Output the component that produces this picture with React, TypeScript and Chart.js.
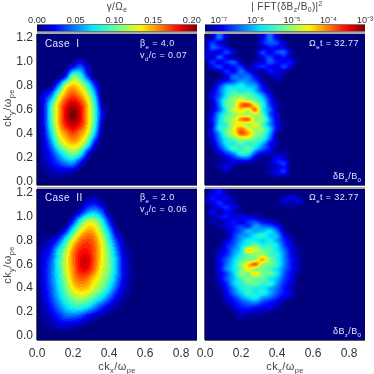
import React, { useEffect, useRef } from "react";
import { Chart, registerables } from "chart.js";

Chart.register(...registerables);

const FONT = '"Liberation Sans", Arial, sans-serif';

const kxTicks = [0, 0.2, 0.4, 0.6, 0.8];
const kyTicks = [0, 0.2, 0.4, 0.6, 0.8, 1.0, 1.2];
const gammaTicks = [0, 0.05, 0.1, 0.15, 0.2];
const fftTicks = [1e-7, 1e-6, 1e-5, 1e-4, 1e-3];

// growth rate grids: rows run from ky = 1.2 down to 0, columns from kx = 0 upward
const gammaKx = [0, 0.04, 0.08, 0.12, 0.16, 0.2, 0.24, 0.28, 0.32, 0.36, 0.4, 0.44, 0.48, 0.52, 0.56, 0.6];
const gammaKy = [1.2, 1.12, 1.04, 0.96, 0.88, 0.8, 0.72, 0.64, 0.56, 0.48, 0.4, 0.32, 0.24, 0.16, 0.08, 0];
const gammaCaseI = [
  [],
  [],
  [],
  [0, 0, 0, 0, 0.002, 0.02, 0.04, 0.012],
  [0, 0, 0, 0, 0.03, 0.1, 0.085, 0.035],
  [0, 0, 0.006, 0.05, 0.12, 0.14, 0.125, 0.09, 0.035],
  [0.001, 0.02, 0.045, 0.11, 0.15, 0.165, 0.15, 0.12, 0.065, 0.002],
  [0, 0.025, 0.085, 0.14, 0.175, 0.19, 0.175, 0.14, 0.085, 0.012],
  [0, 0.025, 0.09, 0.143, 0.183, 0.2, 0.183, 0.143, 0.09, 0.022],
  [0, 0.025, 0.085, 0.14, 0.175, 0.19, 0.175, 0.14, 0.085, 0.012],
  [0, 0.02, 0.07, 0.125, 0.15, 0.165, 0.15, 0.125, 0.065, 0.005],
  [0, 0.015, 0.05, 0.1, 0.13, 0.14, 0.13, 0.09, 0.025],
  [0, 0.012, 0.03, 0.06, 0.09, 0.105, 0.085, 0.03],
  [0, 0.008, 0.02, 0.035, 0.05, 0.055, 0.025, 0.002],
  [0, 0.003, 0.008, 0.012, 0.012, 0.008],
  [],
];
const gammaCaseII = [
  [],
  [0, 0, 0, 0, 0, 0, 0, 0.015, 0.02, 0.008],
  [0, 0, 0, 0, 0, 0, 0.02, 0.05, 0.06, 0.04, 0.005],
  [0, 0, 0, 0, 0, 0.03, 0.08, 0.115, 0.115, 0.08, 0.03, 0.002],
  [0, 0, 0, 0, 0.03, 0.08, 0.125, 0.145, 0.14, 0.105, 0.06, 0.012, 0.002],
  [0, 0.005, 0.012, 0.035, 0.08, 0.125, 0.155, 0.165, 0.155, 0.125, 0.08, 0.035, 0.008, 0.001],
  [0.003, 0.012, 0.03, 0.07, 0.11, 0.15, 0.172, 0.175, 0.16, 0.13, 0.095, 0.05, 0.014, 0.003],
  [0.004, 0.018, 0.04, 0.08, 0.12, 0.155, 0.18, 0.185, 0.16, 0.13, 0.1, 0.06, 0.02, 0.005, 0.001],
  [0.004, 0.02, 0.045, 0.08, 0.12, 0.15, 0.177, 0.178, 0.155, 0.125, 0.1, 0.06, 0.022, 0.006, 0.001],
  [0.003, 0.02, 0.045, 0.075, 0.11, 0.145, 0.16, 0.155, 0.135, 0.115, 0.09, 0.055, 0.02, 0.006, 0.001],
  [0.002, 0.018, 0.04, 0.07, 0.1, 0.13, 0.142, 0.138, 0.12, 0.1, 0.072, 0.04, 0.014, 0.004],
  [0.001, 0.014, 0.035, 0.06, 0.085, 0.105, 0.115, 0.108, 0.09, 0.07, 0.045, 0.02, 0.007, 0.002],
  [0, 0.01, 0.025, 0.045, 0.065, 0.08, 0.08, 0.07, 0.05, 0.03, 0.016, 0.006, 0.002],
  [0, 0.006, 0.015, 0.028, 0.04, 0.04, 0.035, 0.02, 0.012, 0.005, 0.001],
  [0, 0.002, 0.006, 0.012, 0.012, 0.01, 0.005, 0.002],
  [],
];

// spectrum grids: entries are tenths of a decade above 1e-7
const fftKx = [0, 0.04, 0.08, 0.12, 0.16, 0.2, 0.24, 0.28, 0.32, 0.36, 0.4, 0.44, 0.48, 0.52, 0.56];
const fftKy = [1.2, 1.16, 1.12, 1.08, 1.04, 1.0, 0.96, 0.92, 0.88, 0.84, 0.8, 0.76, 0.72, 0.68, 0.64, 0.6, 0.56, 0.52, 0.48, 0.44, 0.4, 0.36, 0.32, 0.28, 0.24, 0.2, 0.16, 0.12, 0.08, 0.04, 0];
const fftCaseI = [
  [0, 2, 9, 2, 0, 0, 0, 0, 3, 9, 3, 0],
  [2, 6, 3, 1, 0, 0, 0, 0, 5, 8, 7, 2],
  [1, 8, 6, 3, 0, 0, 0, 0, 2, 5, 4, 4],
  [3, 4, 3, 7, 3, 0, 0, 1, 7, 3, 7, 8, 2],
  [4, 2, 8, 3, 1, 0, 0, 0, 4, 7, 3, 5, 1],
  [0, 6, 3, 6, 8, 2, 0, 2, 3, 8, 5, 4, 5],
  [0, 4, 7, 3, 5, 6, 1, 4, 6, 4, 3, 7, 2],
  [0, 0, 2, 6, 4, 9, 5, 2, 1, 5, 3, 2, 0],
  [0, 0, 0, 3, 9, 8, 9, 4, 1, 1, 3, 1, 0],
  [0, 0, 3, 5, 8, 11, 10, 7, 2, 0, 1, 0],
  [0, 1, 6, 12, 13, 15, 12, 11, 4, 1],
  [0, 2, 8, 14, 17, 15, 16, 12, 6, 2],
  [0, 4, 8, 15, 19, 20, 19, 16, 11, 4],
  [0, 3, 10, 18, 22, 25, 22, 19, 14, 6, 1],
  [0, 2, 9, 19, 21, 31, 33, 25, 17, 7, 2],
  [0, 3, 8, 17, 24, 27, 24, 31, 16, 9, 2],
  [0, 4, 12, 18, 21, 24, 22, 23, 19, 8, 3],
  [0, 5, 13, 20, 23, 30, 32, 21, 21, 11, 3],
  [0, 4, 14, 17, 24, 25, 22, 25, 18, 10, 4, 1],
  [0, 5, 15, 19, 25, 31, 26, 22, 21, 13, 4],
  [0, 4, 11, 20, 24, 32, 29, 22, 19, 11, 2],
  [0, 3, 10, 16, 20, 23, 23, 19, 17, 9, 1],
  [0, 2, 8, 15, 15, 19, 16, 17, 12, 5, 2],
  [0, 1, 6, 12, 18, 16, 19, 14, 9, 5, 1],
  [0, 0, 3, 7, 11, 17, 16, 8, 4, 3, 1, 2],
  [0, 0, 1, 3, 6, 9, 9, 3, 1, 1, 4, 2],
  [0, 0, 1, 2, 3, 2, 2, 1, 0, 2, 5, 6],
  [0, 0, 2, 4, 1, 0, 0, 0, 0, 1, 2, 5],
  [0, 0, 0, 1, 0, 0, 0, 0, 0, 2, 4, 6],
  [0, 0, 0, 0, 0, 0, 0, 0, 0, 0, 1, 0],
  [],
];
const fftCaseII = [
  [0, 3, 5, 1, 0],
  [1, 5, 3, 4, 1, 0, 0, 0, 0, 0, 0, 2, 4, 2],
  [2, 3, 6, 3, 2, 0, 0, 0, 0, 0, 0, 3, 1, 3],
  [0, 2, 4, 6, 3, 1, 0, 0, 0, 0, 0, 0, 1],
  [0, 4, 1, 4, 2, 1, 0],
  [0, 1, 4, 5, 3, 4, 3, 2, 1],
  [0, 2, 1, 3, 5, 3, 6, 7, 4, 3, 1],
  [0, 0, 2, 3, 5, 7, 6, 11, 9, 8, 5, 1],
  [0, 0, 0, 2, 5, 8, 12, 11, 12, 14, 9, 2],
  [0, 0, 0, 1, 6, 10, 11, 15, 17, 13, 12, 4, 1],
  [0, 0, 0, 3, 7, 11, 15, 15, 13, 15, 11, 6, 2],
  [0, 0, 1, 5, 8, 13, 17, 20, 16, 17, 14, 7, 3],
  [0, 0, 2, 5, 10, 14, 27, 24, 20, 18, 14, 9, 4, 1],
  [0, 0, 3, 6, 11, 16, 20, 21, 22, 18, 16, 10, 4, 1],
  [0, 0, 4, 8, 13, 18, 20, 22, 29, 21, 16, 10, 5, 2],
  [0, 0, 3, 9, 14, 21, 27, 32, 22, 20, 17, 10, 5, 1],
  [0, 0, 4, 10, 14, 20, 26, 21, 20, 18, 14, 9, 5, 2],
  [0, 0, 3, 7, 13, 21, 20, 27, 20, 20, 15, 8, 4, 1],
  [0, 0, 3, 8, 12, 18, 21, 19, 19, 15, 12, 7, 4],
  [0, 0, 2, 6, 13, 16, 19, 20, 17, 17, 11, 6, 3],
  [0, 0, 1, 5, 10, 15, 17, 15, 15, 12, 9, 5, 2],
  [0, 0, 0, 4, 9, 13, 17, 15, 16, 12, 8, 5, 3],
  [0, 0, 0, 3, 6, 10, 13, 15, 11, 9, 6, 3, 1],
  [0, 0, 0, 2, 4, 7, 9, 10, 7, 5, 3, 1],
  [0, 0, 0, 0, 3, 5, 6, 5, 4, 4, 2],
  [0, 0, 0, 0, 1, 3, 3, 2, 2, 1],
  [0, 0, 0, 0, 0, 2, 1, 1],
  [],
  [],
  [],
  [],
];

const rampStops: [number, number, number, number][] = [
  [0, 0, 0, 125],
  [0.11, 0, 0, 255],
  [0.35, 0, 235, 255],
  [0.5, 110, 255, 140],
  [0.65, 255, 245, 0],
  [0.89, 255, 0, 0],
  [1, 125, 0, 0],
];

function ramp(f: number): [number, number, number] {
  const t = Math.max(0, Math.min(1, f));
  for (let i = 1; i < rampStops.length; i++) {
    if (t <= rampStops[i][0]) {
      const a = rampStops[i - 1];
      const b = rampStops[i];
      const u = (t - a[0]) / (b[0] - a[0]);
      return [a[1] + (b[1] - a[1]) * u, a[2] + (b[2] - a[2]) * u, a[3] + (b[3] - a[3]) * u];
    }
  }
  return [125, 0, 0];
}

function cr(a: number, b: number, c: number, d: number, t: number) {
  return 0.5 * (2 * b + (c - a) * t + (2 * a - 5 * b + 4 * c - d) * t * t + (3 * b - a - 3 * c + d) * t * t * t);
}

function locate(axis: number[], v: number): [number, number] {
  const asc = axis[1] > axis[0];
  const step = Math.abs(axis[1] - axis[0]);
  const p = asc ? (v - axis[0]) / step : (axis[0] - v) / step;
  const i = Math.floor(p);
  return [i, p - i];
}

function sample(rows: number[][], kx: number[], ky: number[], x: number, y: number) {
  const [ci, cu] = locate(kx, x);
  const [ri, ru] = locate(ky, y);
  const at = (r: number, c: number) => {
    const rr = Math.max(0, Math.min(ky.length - 1, r));
    return (rows[rr] && rows[rr][Math.max(0, c)]) || 0;
  };
  const line = (r: number) => cr(at(r, ci - 1), at(r, ci), at(r, ci + 1), at(r, ci + 2), cu);
  return Math.max(0, cr(line(ri - 1), line(ri), line(ri + 1), line(ri + 2), ru));
}

type Run = { t: string; sub?: boolean; sup?: boolean };

function richWidth(ctx: CanvasRenderingContext2D, runs: Run[], size: number) {
  let w = 0;
  for (const r of runs) {
    ctx.font = `${r.sub || r.sup ? size * 0.68 : size}px ${FONT}`;
    w += ctx.measureText(r.t).width;
  }
  return w;
}

function drawRich(
  ctx: CanvasRenderingContext2D,
  runs: Run[],
  x: number,
  y: number,
  size: number,
  color: string,
  align: "left" | "center" = "left",
  rotate = false,
) {
  ctx.save();
  ctx.translate(x, y);
  if (rotate) ctx.rotate(-Math.PI / 2);
  ctx.fillStyle = color;
  ctx.textBaseline = "alphabetic";
  ctx.textAlign = "left";
  ctx.letterSpacing = "0.4px";
  let cx = align === "center" ? -richWidth(ctx, runs, size) / 2 : 0;
  const base = size * 0.36;
  for (const r of runs) {
    ctx.font = `${r.sub || r.sup ? size * 0.68 : size}px ${FONT}`;
    const dy = r.sub ? size * 0.28 : r.sup ? -size * 0.4 : 0;
    ctx.fillText(r.t, cx, base + dy);
    cx += ctx.measureText(r.t).width;
  }
  ctx.restore();
}

type Note = { runs: Run[]; x: number; y: number; size: number; color: string; align?: "left" | "center"; rotate?: boolean };

const GREY = "#444";
const kxTitle: Run[] = [{ t: "ck" }, { t: "x", sub: true }, { t: "/ω" }, { t: "pe", sub: true }];
const kyTitle: Run[] = [{ t: "ck" }, { t: "y", sub: true }, { t: "/ω" }, { t: "pe", sub: true }];
const deltaNote: Run[] = [{ t: "δB" }, { t: "z", sub: true }, { t: "/B" }, { t: "0", sub: true }];
const timeNote: Run[] = [{ t: "Ω" }, { t: "e", sub: true }, { t: "t = 32.77" }];

function paintBorder(ctx: CanvasRenderingContext2D, a: any) {
  ctx.save();
  ctx.fillStyle = "#a8a8a8";
  ctx.fillRect(a.left, a.top - 2, a.right - a.left, 2);
  ctx.fillStyle = "#5a5a5a";
  ctx.fillRect(a.left - 1, a.top, 1, a.bottom - a.top);
  ctx.fillRect(a.left, a.bottom, a.right - a.left, 1);
  ctx.restore();
}

function makePanel(
  canvas: HTMLCanvasElement,
  rect: { x: number; y: number; w: number; h: number },
  yRange: [number, number],
  field: (x: number, y: number) => number,
  cells: { x: number; y: number; v: number }[],
  showX: boolean,
  showY: boolean,
  notes: Note[],
) {
  return new Chart(canvas, {
    type: "scatter",
    data: { datasets: [{ data: cells as any, pointRadius: 0, showLine: false }] },
    options: {
      animation: false,
      responsive: false,
      devicePixelRatio: 1,
      layout: { autoPadding: false, padding: { left: 0, top: rect.y, right: 374 - rect.x - rect.w, bottom: 0 } },
      plugins: { legend: { display: false }, tooltip: { enabled: false } },
      scales: {
        x: {
          type: "linear",
          min: 0,
          max: 0.889,
          grid: { display: false, drawTicks: false },
          border: { display: false },
          afterBuildTicks: (s: any) => { s.ticks = kxTicks.map((value) => ({ value })); },
          afterFit: (s: any) => { s.height = 374 - rect.y - rect.h; },
          ticks: {
            display: showX,
            autoSkip: false,
            maxRotation: 0,
            padding: 6,
            color: "#333",
            font: { family: FONT, size: 12 },
            callback: (v: any) => Number(v).toFixed(1),
          },
        },
        y: {
          type: "linear",
          min: yRange[0],
          max: yRange[1],
          grid: { display: false, drawTicks: false },
          border: { display: false },
          afterBuildTicks: (s: any) => { s.ticks = kyTicks.map((value) => ({ value })); },
          afterFit: (s: any) => { s.width = rect.x; },
          ticks: {
            display: showY,
            autoSkip: false,
            padding: 4,
            color: "#333",
            font: { family: FONT, size: 12 },
            callback: (v: any) => Number(v).toFixed(1),
          },
        },
      },
    } as any,
    plugins: [
      {
        id: "heat",
        beforeDatasetsDraw(chart: any) {
          const { ctx, chartArea: a, scales } = chart;
          const w = Math.round(a.right - a.left);
          const h = Math.round(a.bottom - a.top);
          const img = ctx.createImageData(w, h);
          for (let j = 0; j < h; j++) {
            const ky = scales.y.getValueForPixel(a.top + j + 0.5);
            for (let i = 0; i < w; i++) {
              const kx = scales.x.getValueForPixel(a.left + i + 0.5);
              const c = ramp(field(kx, ky));
              const o = (j * w + i) * 4;
              img.data[o] = c[0];
              img.data[o + 1] = c[1];
              img.data[o + 2] = c[2];
              img.data[o + 3] = 255;
            }
          }
          ctx.putImageData(img, Math.round(a.left), Math.round(a.top));
          paintBorder(ctx, a);
        },
        afterDraw(chart: any) {
          for (const n of notes) {
            drawRich(chart.ctx, n.runs, n.x, n.y, n.size, n.color, n.align, n.rotate);
          }
        },
      },
    ],
  });
}

function makeBar(
  canvas: HTMLCanvasElement,
  rect: { x: number; y: number; w: number; h: number },
  log: boolean,
  range: [number, number],
  ticksAt: number[],
  label: (v: number) => string,
  notes: Note[],
) {
  const [lo, hi] = range;
  return new Chart(canvas, {
    type: "scatter",
    data: { datasets: [{ data: ticksAt.map((x) => ({ x, y: 0 })), pointRadius: 0, showLine: false }] },
    options: {
      animation: false,
      responsive: false,
      devicePixelRatio: 1,
      layout: { autoPadding: false, padding: { left: rect.x, top: 0, right: 374 - rect.x - rect.w, bottom: 374 - rect.y - rect.h } },
      plugins: { legend: { display: false }, tooltip: { enabled: false } },
      scales: {
        x: {
          type: log ? "logarithmic" : "linear",
          position: "top",
          min: lo,
          max: hi,
          grid: { display: false, drawTicks: false },
          border: { display: false },
          afterBuildTicks: (s: any) => { s.ticks = ticksAt.map((value) => ({ value })); },
          afterFit: (s: any) => { s.height = rect.y; },
          ticks: {
            autoSkip: false,
            maxRotation: 0,
            padding: -1,
            color: "#333",
            font: { family: FONT, size: 9.2 },
            callback: (v: any) => label(Number(v)),
          },
        },
        y: { display: false, min: -1, max: 1 },
      },
    } as any,
    plugins: [
      {
        id: "bar",
        beforeDatasetsDraw(chart: any) {
          const { ctx, chartArea: a, scales } = chart;
          for (let px = Math.round(a.left); px < a.right; px++) {
            const v = scales.x.getValueForPixel(px + 0.5);
            const f = log ? (Math.log10(v) - Math.log10(lo)) / (Math.log10(hi) - Math.log10(lo)) : (v - lo) / (hi - lo);
            const c = ramp(f);
            ctx.fillStyle = `rgb(${c[0]},${c[1]},${c[2]})`;
            ctx.fillRect(px, a.top, 1, a.bottom - a.top);
          }
          ctx.fillStyle = "#777";
          ctx.fillRect(a.left, a.top - 1, a.right - a.left, 1);
          ctx.fillRect(a.left, a.bottom, a.right - a.left, 1);
        },
        afterDraw(chart: any) {
          for (const n of notes) {
            drawRich(chart.ctx, n.runs, n.x, n.y, n.size, n.color, n.align, n.rotate);
          }
        },
      },
    ],
  });
}

const toCells = (rows: number[][], kx: number[], ky: number[]) =>
  rows.flatMap((r, j) => r.map((v, i) => ({ x: kx[i], y: ky[j], v })));

export default function App() {
  const refs = useRef<(HTMLCanvasElement | null)[]>([]);

  useEffect(() => {
    const c = refs.current as HTMLCanvasElement[];
    const rTL = { x: 37, y: 34, w: 160, h: 151 };
    const rTR = { x: 205, y: 34, w: 160, h: 151 };
    const rBL = { x: 37, y: 189, w: 160, h: 151 };
    const rBR = { x: 205, y: 189, w: 160, h: 151 };
    const topY: [number, number] = [-0.0276, 1.233];
    const botY: [number, number] = [-0.036, 1.233];
    const gammaField = (rows: number[][]) => (x: number, y: number) =>
      Math.round((sample(rows, gammaKx, gammaKy, x, y) / 0.2) * 34) / 34;
    const fftField = (rows: number[][]) => (x: number, y: number) => sample(rows, fftKx, fftKy, x, y) / 40;
    const charts = [
      makeBar(c[0], { x: 37, y: 25, w: 160, h: 6 }, false, [0, 0.2067], gammaTicks, (v) => v.toFixed(2), [
        { runs: [{ t: "γ/Ω" }, { t: "e", sub: true }], x: 117, y: 6, size: 10, color: GREY, align: "center" },
      ]),
      makeBar(c[1], { x: 205, y: 25, w: 160, h: 6 }, true, [4.17e-8, 1e-3], fftTicks, (v) => {
        const e = Math.round(Math.log10(v));
        return `10${{ 7: "⁻⁷", 6: "⁻⁶", 5: "⁻⁵", 4: "⁻⁴", 3: "⁻³" }[-e]}`;
      }, [
        {
          runs: [{ t: "| FFT(δB" }, { t: "z", sub: true }, { t: "/B" }, { t: "0", sub: true }, { t: ")|" }, { t: "2", sup: true }],
          x: 287, y: 6, size: 10, color: GREY, align: "center",
        },
      ]),
      makePanel(c[2], rTL, topY, gammaField(gammaCaseI), toCells(gammaCaseI, gammaKx, gammaKy), false, true, [
        { runs: [{ t: "Case  I" }], x: 45, y: 43, size: 10, color: "#dfe6ff" },
        { runs: [{ t: "β" }, { t: "e", sub: true }, { t: " = 4.0" }], x: 140, y: 43, size: 9, color: "#dfe6ff" },
        { runs: [{ t: "v" }, { t: "d", sub: true }, { t: "/c = 0.07" }], x: 140, y: 55, size: 9, color: "#dfe6ff" },
        { runs: kyTitle, x: 7, y: 108, size: 11, color: GREY, align: "center", rotate: true },
      ]),
      makePanel(c[3], rTR, topY, fftField(fftCaseI), toCells(fftCaseI, fftKx, fftKy), false, false, [
        { runs: timeNote, x: 309, y: 43, size: 9, color: "#dfe6ff" },
        { runs: deltaNote, x: 333, y: 176, size: 9, color: "#dfe6ff" },
      ]),
      makePanel(c[4], rBL, botY, gammaField(gammaCaseII), toCells(gammaCaseII, gammaKx, gammaKy), true, true, [
        { runs: [{ t: "Case  II" }], x: 45, y: 197, size: 10, color: "#dfe6ff" },
        { runs: [{ t: "β" }, { t: "e", sub: true }, { t: " = 2.0" }], x: 140, y: 197, size: 9, color: "#dfe6ff" },
        { runs: [{ t: "v" }, { t: "d", sub: true }, { t: "/c = 0.06" }], x: 140, y: 209, size: 9, color: "#dfe6ff" },
        { runs: kyTitle, x: 7, y: 265, size: 11, color: GREY, align: "center", rotate: true },
        { runs: kxTitle, x: 117, y: 366, size: 11, color: GREY, align: "center" },
      ]),
      makePanel(c[5], rBR, botY, fftField(fftCaseII), toCells(fftCaseII, fftKx, fftKy), true, false, [
        { runs: timeNote, x: 309, y: 197, size: 9, color: "#dfe6ff" },
        { runs: deltaNote, x: 333, y: 331, size: 9, color: "#dfe6ff" },
        { runs: kxTitle, x: 285, y: 366, size: 11, color: GREY, align: "center" },
      ]),
    ];
    return () => charts.forEach((ch) => ch.destroy());
  }, []);

  return (
    <div style={{ position: "absolute", left: 0, top: 0, width: 374, height: 374, background: "#fff" }}>
      {[0, 1, 2, 3, 4, 5].map((i) => (
        <canvas
          key={i}
          ref={(el) => { refs.current[i] = el; }}
          width={374}
          height={374}
          style={{ position: "absolute", left: 0, top: 0, width: 374, height: 374 }}
        />
      ))}
    </div>
  );
}
